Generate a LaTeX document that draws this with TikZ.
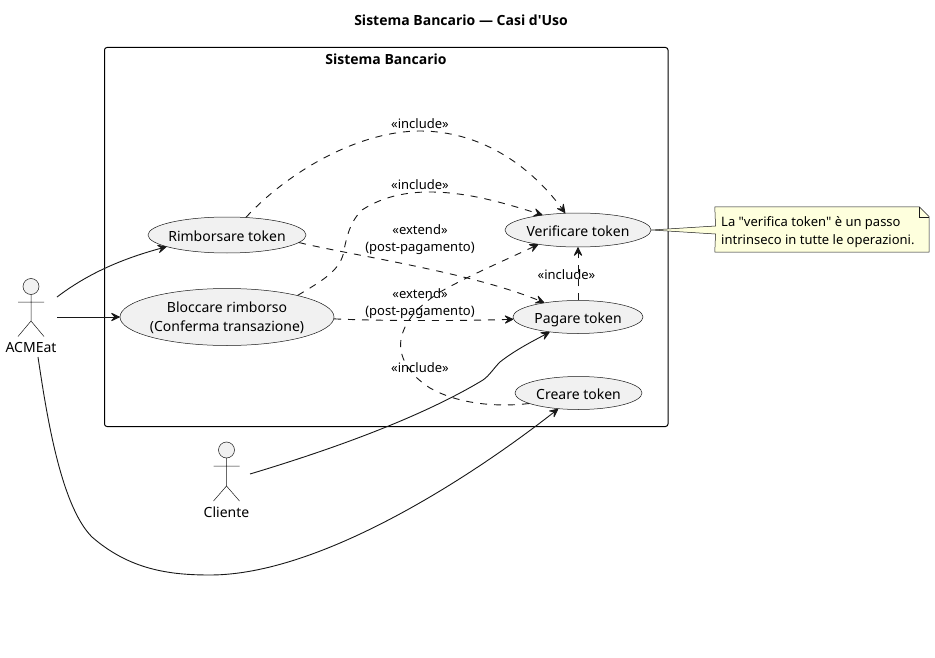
\documentclass[tikz,border=0pt]{standalone}
\usepackage{fontspec}
\setmainfont{Noto Sans}[Ligatures=TeXOff]
\newfontfamily\titlefont{Open Sans}[Ligatures=TeXOff]
\usetikzlibrary{shapes.geometric,arrows.meta}
\definecolor{ink}{HTML}{181818}
\definecolor{ucfill}{HTML}{F1F1F1}
\definecolor{notefill}{HTML}{FEFFDD}
\tikzset{
  x=1pt,y=-1pt,
  uc/.style={ellipse,draw=ink,line width=.5pt,fill=ucfill,inner sep=0pt},
  uclabel/.style={font=\fontsize{14}{19}\selectfont,align=center,inner sep=0pt,text=black},
  head/.style={-{Stealth[length=10.5pt,width=10pt,inset=4.5pt,round]}},
  rel/.style={draw=ink,line width=.9pt,head},
  dep/.style={rel,dash pattern=on 7pt off 7pt},
  edgelabel/.style={font=\fontsize{13}{17.5}\selectfont,align=center,inner sep=0pt,text=black},
  actorline/.style={draw=ink,line width=.5pt},
  actorname/.style={font=\fontsize{14}{18}\selectfont,inner sep=0pt,text=black},
  frametitle/.style={font=\titlefont\fontsize{14}{18}\selectfont\bfseries,inner sep=0pt,text=black},
}
\begin{document}
\begin{tikzpicture}
\useasboundingbox (0,0) rectangle (935,658);
\fill[white] (0,0) rectangle (935,658);
\node[frametitle] (title) at (461,20) {Sistema Bancario — Casi d'Uso};
\draw[black,line width=1pt,rounded corners=2.5pt] (104.5,47.5) rectangle (668,426.5);
\node[frametitle] (systitle) at (386,59) {Sistema Bancario};

% use cases
\node[uc,minimum width=158pt,minimum height=36pt,label={[uclabel,yshift=-1pt]center:Rimborsare token}] (rim) at (227,235) {};
\node[uc,minimum width=214pt,minimum height=57pt,label={[uclabel,yshift=-.5pt]center:Bloccare rimborso\\(Conferma transazione)}] (blo) at (227,317) {};
\node[uc,minimum width=146pt,minimum height=34pt,label={[uclabel,yshift=-1.5pt]center:Verificare token}] (ver) at (578,230) {};
\node[uc,minimum width=130pt,minimum height=33pt,label={[uclabel,yshift=-3pt]center:Pagare token}] (pag) at (578,317) {};
\node[uc,minimum width=127pt,minimum height=33pt,label={[uclabel,yshift=-1pt]center:Creare token}] (cre) at (578.5,393) {};

% actors
\draw[actorline,fill=ucfill] (31,286.5) circle (8);
\draw[actorline] (31,294.5) -- (31,321) (18,302) -- (44,302) (18,336.5) -- (31,321) -- (44,336.5);
\node[actorname] (acme) at (31,348) {ACMEat};
\draw[actorline,fill=ucfill] (226.5,450) circle (8);
\draw[actorline] (226.5,458) -- (226.5,486) (213.5,466) -- (239.5,466) (213.5,501) -- (226.5,486) -- (239.5,501);
\node[actorname] (cli) at (226.5,512) {Cliente};
\coordinate (acmeA) at (57,297);
\coordinate (acmeB) at (57,317);
\coordinate (acmeC) at (38,357);
\coordinate (cliA) at (250,474);

% note
\node[minimum width=214pt,minimum height=45pt,inner sep=0pt] (note) at (822,229.5) {};
\coordinate (tailA) at (715.5,226);
\coordinate (tailB) at (715.5,234);
\path[fill=notefill,draw=ink,line width=.5pt] (note.north west) -- ([xshift=-10pt]note.north east) -- ([yshift=-10pt]note.north east) -- (note.south east) -- (note.south west) -- (tailB) -- (ver.east) -- (tailA) -- cycle;
\draw[draw=ink,line width=.5pt] ([xshift=-10pt]note.north east) -- ([xshift=-10pt,yshift=-10pt]note.north east) -- ([yshift=-10pt]note.north east);
\node[font=\fontsize{13}{18}\selectfont,align=left,inner sep=0pt,anchor=west,text=black] (notetext) at (721,232) {La "verifica token" è un passo\\intrinseco in tutte le operazioni.};

% solid relations
\draw[rel] (acmeA) .. controls (90,272) and (125,258) .. (rim.191);
\draw[rel] (acmeB) -- (blo.west);
\draw[rel] (acmeC) .. controls (46,410) and (60,505) .. (92,537) .. controls (130,570) and (170,575) .. (210,575) .. controls (320,575) and (470,478) .. (cre.218);
\draw[rel] (cliA) .. controls (330,450) and (420,418) .. (483,380) .. controls (490,375) and (493,369) .. (500,362) .. controls (515,350) and (535,340) .. (pag.208);

% dashed relations
\draw[dep] (rim.43) .. controls (290,170) and (360,131) .. (420,131) .. controls (480,131) and (530,165) .. (ver.127);
\draw[dep] (blo.17.7) .. controls (320,282) and (338,272) .. (343,255) .. controls (347,235) and (350,222) .. (362,210) .. controls (385,195) and (410,192) .. (430,192) .. controls (470,192) and (510,205) .. (ver.157);
\draw[dep] (rim.-6.4) .. controls (350,255) and (470,272) .. (pag.157);
\draw[dep] (blo.-1) .. controls (380,321) and (460,321) .. (pag.182);
\draw[dep] (pag.north) -- (ver.south);
\draw[dep] (cre.192) .. controls (500,407) and (460,405) .. (430,388) .. controls (405,372) and (397,352) .. (402,335) .. controls (407,318) and (420,305) .. (440,292) .. controls (470,275) and (510,258) .. (ver.200.6);

% edge labels
\node[edgelabel] (l1) at (420,124) {«include»};
\node[edgelabel] (l2) at (420,185) {«include»};
\node[edgelabel] (l3) at (420,239.5) {«extend»\\(post-pagamento)};
\node[edgelabel] (l4) at (420,303.5) {«extend»\\(post-pagamento)};
\node[edgelabel] (l5) at (420,368) {«include»};
\node[edgelabel] (l6) at (566.5,275) {«include»};
\end{tikzpicture}
\end{document}
